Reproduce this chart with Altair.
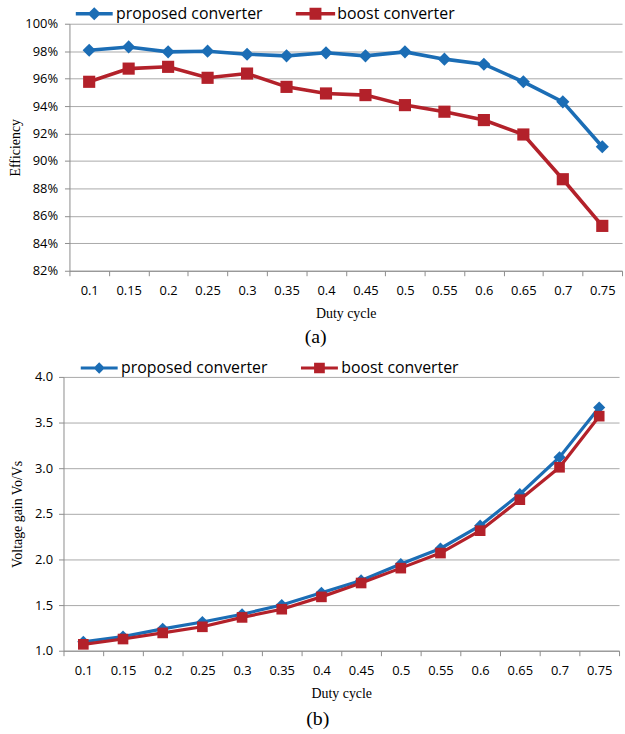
import altair as alt
import pandas as pd

duty = ["0.1", "0.15", "0.2", "0.25", "0.3", "0.35", "0.4", "0.45", "0.5",
        "0.55", "0.6", "0.65", "0.7", "0.75"]
series_names = ["proposed converter", "boost converter"]

eff_proposed = [0.9807, 0.9831, 0.9795, 0.9800, 0.9778, 0.9766, 0.9788, 0.9766,
                0.9795, 0.9742, 0.9705, 0.9577, 0.9431, 0.9104]
eff_boost = [0.9577, 0.9673, 0.9686, 0.9606, 0.9637, 0.9540, 0.9492, 0.9480,
             0.9407, 0.9359, 0.9298, 0.9193, 0.8867, 0.8527]

gain_proposed = [1.098, 1.155, 1.24, 1.315, 1.40, 1.50, 1.635, 1.77, 1.95,
                 2.12, 2.37, 2.715, 3.12, 3.665]
gain_boost = [1.07, 1.128, 1.195, 1.262, 1.365, 1.455, 1.59, 1.742, 1.905,
              2.07, 2.315, 2.655, 3.01, 3.57]

eff_ticks = [0.82, 0.84, 0.86, 0.88, 0.90, 0.92, 0.94, 0.96, 0.98, 1.00]
gain_ticks = [1.0, 1.5, 2.0, 2.5, 3.0, 3.5, 4.0]

blue = "#1b6db5"
red = "#b3212a"
grid_gray = "#a9a9a9"
axis_gray = "#8c8c8c"
SERIF = "Liberation Serif"
SANS = "Open Sans"


def make_df(a, b):
    rows = []
    for d, v in zip(duty, a):
        rows.append({"duty": d, "series": series_names[0], "value": v})
    for d, v in zip(duty, b):
        rows.append({"duty": d, "series": series_names[1], "value": v})
    return pd.DataFrame(rows)


def panel(df, ydomain, yticks, yfmt, ytitle, width, height, x_range, y_offset,
          stroke_w, d_size, s_size, leg_paths, leg_x, leg_y, leg_lo, leg_cp,
          lab_pad, title_pad, caption, cap_off):
    x = alt.X("duty:N", sort=duty,
              scale=alt.Scale(type="band", paddingInner=0, paddingOuter=0,
                              range=x_range),
              axis=alt.Axis(title="Duty cycle", labelAngle=0, tickBand="extent",
                            grid=False, tickSize=5, tickColor=axis_gray,
                            domainColor=axis_gray, labelFont=SANS, labelFontSize=13,
                            labelColor="black", labelPadding=9,
                            titleFont=SERIF, titleFontSize=14,
                            titleFontWeight="normal", titleColor="black",
                            titlePadding=9))
    y = alt.Y("value:Q",
              scale=alt.Scale(domain=ydomain, nice=False, zero=False),
              axis=alt.Axis(values=yticks, format=yfmt, title=ytitle,
                            offset=y_offset,
                            grid=True, gridColor=grid_gray, gridWidth=1,
                            tickSize=5, tickColor=axis_gray, domainColor=axis_gray,
                            labelFont=SANS, labelFontSize=13, labelColor="black",
                            labelPadding=lab_pad, titleFont=SERIF, titleFontSize=14,
                            titleFontWeight="normal", titleColor="black",
                            titlePadding=title_pad))
    base = alt.Chart(df)
    layers = []
    for name, col, shp, sz in [(series_names[0], blue, "diamond", d_size),
                               (series_names[1], red, "square", s_size)]:
        sub = base.transform_filter(alt.datum.series == name)
        layers.append(sub.mark_line(color=col, strokeWidth=stroke_w).encode(x=x, y=y))
        layers.append(sub.mark_point(color=col, shape=shp, size=sz, filled=True,
                                     opacity=1).encode(x=x, y=y))
    leg = alt.Legend(orient="none", legendX=leg_x, legendY=leg_y,
                     direction="horizontal", title=None, symbolSize=144,
                     labelFont=SANS, labelFontSize=16, labelColor="black",
                     labelOffset=leg_lo, columnPadding=leg_cp, labelLimit=400,
                     symbolStrokeWidth=0, symbolOpacity=1)
    legend_layer = base.transform_filter("false").mark_point(
        filled=True, opacity=1).encode(
        color=alt.Color("series:N", scale=alt.Scale(domain=series_names,
                                                    range=[blue, red]), legend=leg),
        shape=alt.Shape("series:N", scale=alt.Scale(domain=series_names,
                                                    range=leg_paths), legend=leg))
    layers.append(legend_layer)
    return alt.layer(*layers).properties(
        width=width, height=height,
        title=alt.TitleParams(caption, orient="bottom", anchor="middle",
                              frame="bounds", font=SERIF, fontSize=20,
                              fontWeight="normal", color="black", offset=cap_off))


top_paths = ["M-3.1,-0.3L3.1,-0.3L3.1,0.3L-3.1,0.3Z M0,-1.1L1.1,0L0,1.1L-1.1,0Z",
             "M-3.3,-0.3L3.3,-0.3L3.3,0.3L-3.3,0.3Z M-1,-1L1,-1L1,1L-1,1Z"]
bot_paths = ["M-3.1,-0.27L3.1,-0.27L3.1,0.27L-3.1,0.27Z M0,-0.95L0.95,0L0,0.95L-0.95,0Z",
             "M-3.1,-0.27L3.1,-0.27L3.1,0.27L-3.1,0.27Z M-0.9,-0.9L0.9,-0.9L0.9,0.9L-0.9,0.9Z"]

top = panel(make_df(eff_proposed, eff_boost), [0.82, 1.0], eff_ticks, ".0%",
            "Efficiency", 557, 249, [0, 557], 0, 3.6, 175, 150, top_paths,
            17, -18, 14, 33, 7, 2, "(a)", 7)
bottom = panel(make_df(gain_proposed, gain_boost), [1.0, 4.0], gain_ticks, ".1f",
               "Voltage gain Vo/Vs", 554, 276, [-6, 554], 6, 3.2, 150, 115, bot_paths,
               22, -17, 14, 33, 6, 10, "(b)", 9)

chart = alt.concat(top, bottom, columns=1, spacing=13, align="none").resolve_scale(
    color="independent", shape="independent").resolve_legend(
    color="independent", shape="independent").configure_view(stroke=None).properties(
    background="white", padding={"left": 8, "top": 3, "right": 0, "bottom": 0})

chart.save("out.html", embed_options={"renderer": "svg", "actions": False})
